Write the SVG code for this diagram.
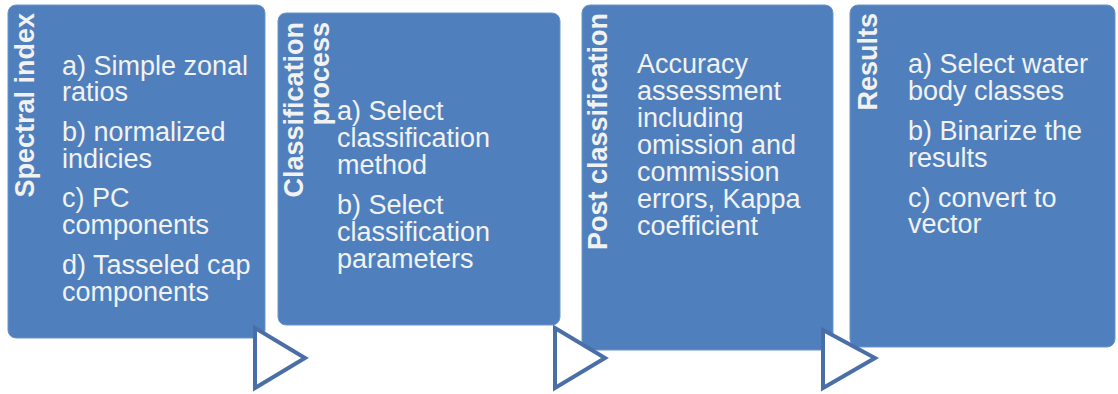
<svg xmlns="http://www.w3.org/2000/svg" width="1118" height="394" viewBox="0 0 1118 394">
<style>
.box{fill:#4f80bd;stroke:#6b95cb;stroke-width:1}
.t{font-family:"Liberation Sans",Arial,sans-serif;font-size:27px;fill:#f2f2f2}
.h{font-family:"Liberation Sans",Arial,sans-serif;font-size:27px;font-weight:bold;fill:#f2f2f2;text-anchor:end}
.arr{fill:#ffffff;stroke:#4a6fa6;stroke-width:4;stroke-linejoin:miter}
</style>
<rect width="1118" height="394" fill="#ffffff"/>
<g id="node-spectral-index">
<rect class="box" x="8" y="5" width="257" height="333" rx="8"/>
<text class="h" transform="translate(34,13) rotate(-90)">Spectral index</text>
<text class="t" x="62" y="75">a) Simple zonal</text>
<text class="t" x="62" y="101">ratios</text>
<text class="t" x="62" y="141">b) normalized</text>
<text class="t" x="62" y="168">indicies</text>
<text class="t" x="62" y="207">c) PC</text>
<text class="t" x="62" y="234">components</text>
<text class="t" x="62" y="274">d) Tasseled cap</text>
<text class="t" x="62" y="301">components</text>
</g>
<g id="node-classification-process">
<rect class="box" x="278" y="13" width="282" height="312" rx="8"/>
<text class="h" transform="translate(303,22) rotate(-90)">Classification</text>
<text class="h" transform="translate(329,22) rotate(-90)">process</text>
<text class="t" x="337" y="120">a) Select</text>
<text class="t" x="337" y="147">classification</text>
<text class="t" x="337" y="174">method</text>
<text class="t" x="337" y="214">b) Select</text>
<text class="t" x="337" y="241">classification</text>
<text class="t" x="337" y="268">parameters</text>
</g>
<g id="node-post-classification">
<rect class="box" x="582" y="5" width="251" height="345" rx="8"/>
<text class="h" transform="translate(607,13) rotate(-90)">Post classification</text>
<text class="t" x="637" y="73">Accuracy</text>
<text class="t" x="637" y="100">assessment</text>
<text class="t" x="637" y="127">including</text>
<text class="t" x="637" y="154">omission and</text>
<text class="t" x="637" y="181">commission</text>
<text class="t" x="637" y="208">errors, Kappa</text>
<text class="t" x="637" y="235">coefficient</text>
</g>
<g id="node-results">
<rect class="box" x="850" y="5" width="265" height="342" rx="8"/>
<text class="h" transform="translate(877,13) rotate(-90)">Results</text>
<text class="t" x="908" y="73">a) Select water</text>
<text class="t" x="908" y="100">body classes</text>
<text class="t" x="908" y="140">b) Binarize the</text>
<text class="t" x="908" y="167">results</text>
<text class="t" x="908" y="207">c) convert to</text>
<text class="t" x="908" y="233">vector</text>
</g>
<g id="connectors">
<polygon class="arr" points="255,328 305,358 255,388"/>
<polygon class="arr" points="555,328 605,358 555,388"/>
<polygon class="arr" points="823,330 875,358 823,388"/>
</g>
</svg>
